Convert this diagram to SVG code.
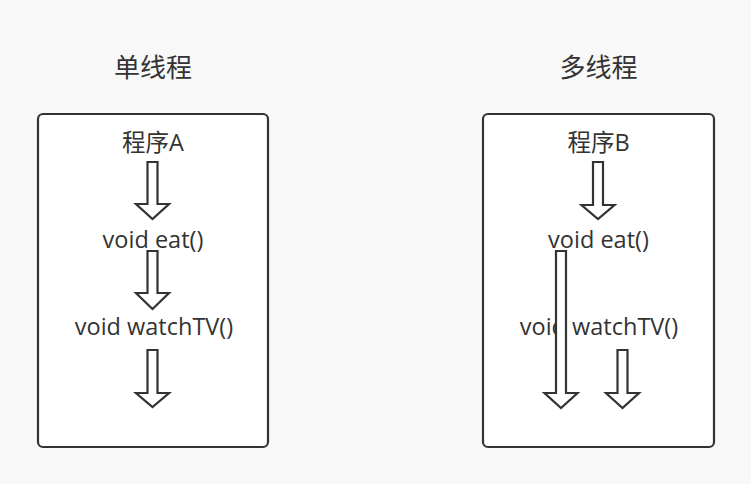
<svg xmlns="http://www.w3.org/2000/svg" width="751" height="484" viewBox="0 0 751 484">
<style>
.bg{fill:#f8f8f8}
.box{fill:#ffffff;stroke:#333333;stroke-width:2.2}
.t{font-family:"Open Sans","Noto Sans CJK SC",sans-serif;font-size:23.5px;fill:#333333;text-anchor:middle}
.title{font-family:"Open Sans","Noto Sans CJK SC",sans-serif;font-size:26px;fill:#333333;text-anchor:middle}
.arr{fill:#ffffff;stroke:#333333;stroke-width:2.2;stroke-linejoin:miter}
</style>
<rect class="bg" x="0" y="0" width="751" height="484"/>
<g id="title-single"><text class="title" x="153" y="77">单线程</text></g>
<g id="title-multi"><text class="title" x="598.5" y="77">多线程</text></g>
<g id="box-single">
<rect class="box" x="38" y="114" width="230" height="333" rx="5"/>
<text class="t" x="153" y="151">程序A</text>
<text class="t" x="153" y="248">void eat()</text>
<text class="t" x="154" y="335">void watchTV()</text>
</g>
<g id="box-multi">
<rect class="box" x="483" y="114" width="231" height="333" rx="5"/>
<text class="t" x="598.5" y="151">程序B</text>
<text class="t" x="598.5" y="248">void eat()</text>
<text class="t" x="599" y="335">void watchTV()</text>
</g>
<g id="connectors">
<path class="arr" d="M147.5,162 H157.5 V204 H169 L152.5,219 L136,204 H147.5 Z"/>
<path class="arr" d="M147.5,251 H157.5 V293 H169 L152.5,309 L136,293 H147.5 Z"/>
<path class="arr" d="M147.5,350 H157.5 V393 H169 L152.5,407 L136,393 H147.5 Z"/>
<path class="arr" d="M593,162 H603 V205 H614.5 L598,219 L581.5,205 H593 Z"/>
<path class="arr" d="M556,251 H566 V393 H577.5 L561,408 L544.5,393 H556 Z"/>
<path class="arr" d="M617.5,350 H627.5 V393 H639 L622.5,408 L606,393 H617.5 Z"/>
</g>
</svg>
